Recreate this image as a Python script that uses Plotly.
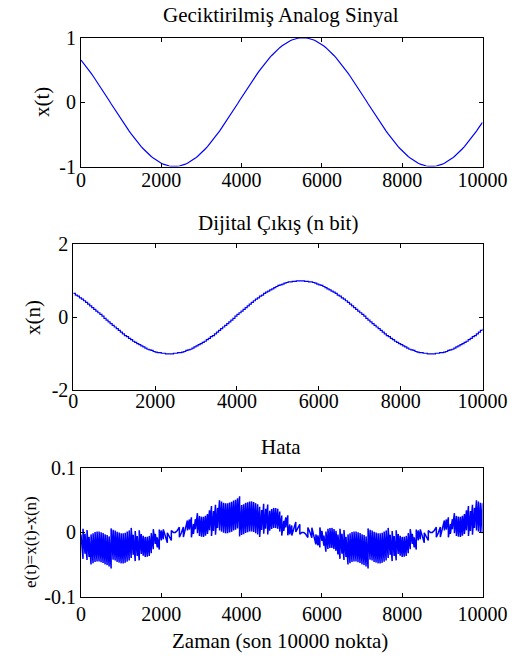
import numpy as np
import plotly.graph_objects as go

# Sample instants (son 10000 nokta), one sample every 50 points
sample_times = list(range(0, 10001, 50))

# Delayed analog signal x(t) at the sample instants
analog_samples = [
    0.653, 0.615, 0.576, 0.535, 0.493, 0.450, 0.405, 0.360, 0.314, 0.267,
    0.219, 0.171, 0.122, 0.074, 0.025, -0.025, -0.074, -0.122, -0.171, -0.219,
    -0.267, -0.314, -0.360, -0.405, -0.450, -0.493, -0.535, -0.576, -0.615, -0.653,
    -0.690, -0.724, -0.757, -0.788, -0.818, -0.845, -0.870, -0.893, -0.914, -0.933,
    -0.950, -0.964, -0.976, -0.985, -0.992, -0.997, -1.000, -1.000, -0.997, -0.992,
    -0.985, -0.976, -0.964, -0.950, -0.933, -0.914, -0.893, -0.870, -0.845, -0.818,
    -0.788, -0.757, -0.724, -0.690, -0.653, -0.615, -0.576, -0.535, -0.493, -0.450,
    -0.405, -0.360, -0.314, -0.267, -0.219, -0.171, -0.122, -0.074, -0.025, 0.025,
    0.074, 0.122, 0.171, 0.219, 0.267, 0.314, 0.360, 0.405, 0.450, 0.493,
    0.535, 0.576, 0.615, 0.653, 0.690, 0.724, 0.757, 0.788, 0.818, 0.845,
    0.870, 0.893, 0.914, 0.933, 0.950, 0.964, 0.976, 0.985, 0.992, 0.997,
    1.000, 1.000, 0.997, 0.992, 0.985, 0.976, 0.964, 0.950, 0.933, 0.914,
    0.893, 0.870, 0.845, 0.818, 0.788, 0.757, 0.724, 0.690,
    0.653, 0.615, 0.576, 0.535, 0.493, 0.450, 0.405, 0.360, 0.314, 0.267,
    0.219, 0.171, 0.122, 0.074, 0.025, -0.025, -0.074, -0.122, -0.171, -0.219,
    -0.267, -0.314, -0.360, -0.405, -0.450, -0.493, -0.535, -0.576, -0.615, -0.653,
    -0.690, -0.724, -0.757, -0.788, -0.818, -0.845, -0.870, -0.893, -0.914, -0.933,
    -0.950, -0.964, -0.976, -0.985, -0.992, -0.997, -1.000, -1.000, -0.997, -0.992,
    -0.985, -0.976, -0.964, -0.950, -0.933, -0.914, -0.893, -0.870, -0.845, -0.818,
    -0.788, -0.757, -0.724, -0.690, -0.653, -0.615, -0.576, -0.535, -0.493, -0.450,
    -0.405, -0.360, -0.314,
]

# ADC output codes (held for one sample period each)
adc_codes = [
    42, 39, 37, 34, 32, 29, 26, 23, 20, 17,
    14, 11, 8, 5, 2, -2, -5, -8, -11, -14,
    -17, -20, -23, -26, -29, -32, -34, -37, -39, -42,
    -44, -46, -48, -50, -52, -54, -56, -57, -58, -60,
    -61, -62, -62, -63, -63, -64, -64, -64, -64, -63,
    -63, -62, -62, -61, -60, -58, -57, -56, -54, -52,
    -50, -48, -46, -44, -42, -39, -37, -34, -32, -29,
    -26, -23, -20, -17, -14, -11, -8, -5, -2, 2,
    5, 8, 11, 14, 17, 20, 23, 26, 29, 32,
    34, 37, 39, 42, 44, 46, 48, 50, 52, 54,
    56, 57, 58, 60, 61, 62, 62, 63, 63, 64,
    64, 64, 64, 63, 63, 62, 62, 61, 60, 58,
    57, 56, 54, 52, 50, 48, 46, 44,
    42, 39, 37, 34, 32, 29, 26, 23, 20, 17,
    14, 11, 8, 5, 2, -2, -5, -8, -11, -14,
    -17, -20, -23, -26, -29, -32, -34, -37, -39, -42,
    -44, -46, -48, -50, -52, -54, -56, -57, -58, -60,
    -61, -62, -62, -63, -63, -64, -64, -64, -64, -63,
    -63, -62, -62, -61, -60, -58, -57, -56, -54, -52,
    -50, -48, -46, -44, -42, -39, -37, -34, -32, -29,
    -26, -23, -20,
]
adc_lsb = 1 / 64

x_ticks = [0, 2000, 4000, 6000, 8000, 10000]
x_ticktext = ["0", "2000", "4000", "6000", "8000", "10000"]
y1_ticks, y1_text = [-1, 0, 1], ["-1", "0", "1"]
y2_ticks, y2_text = [-2, 0, 2], ["-2", "0", "2"]
y3_ticks, y3_text = [-0.1, 0, 0.1], ["-0.1", "0", "0.1"]

titles = ["Geciktirilmiş Analog Sinyal", "Dijital Çıkış (n bit)", "Hata"]
ylabels = ["x(t)", "x(n)", "e(t)=x(t)-x(n)"]
xlabel = "Zaman (son 10000 nokta)"

# ---- derived series ----
t = np.array(sample_times, dtype=float)
xa = np.array(analog_samples)
xd = np.array(adc_codes) * adc_lsb

# e(t) = x(t) - x(n): within each hold interval the error runs from the
# value at the sampling instant to the value just before the next one
et, ev = [], []
for k in range(len(t) - 1):
    et += [t[k], t[k + 1]]
    ev += [xa[k] - xd[k], xa[k + 1] - xd[k]]
et.append(t[-1])
ev.append(xa[-1] - xd[-1])

W, H = 518, 659
FONT = "'Liberation Serif', 'Times New Roman', Times, serif"
BLUE = "#0000ff"


def px(xp):
    return xp / W


def py(yp):
    return 1 - yp / H


fig = go.Figure()
fig.add_trace(go.Scatter(x=t, y=xa, mode="lines", line=dict(color=BLUE, width=1.2),
                         xaxis="x", yaxis="y"))
fig.add_trace(go.Scatter(x=t, y=xd, mode="lines", line=dict(color=BLUE, width=1.2, shape="hv"),
                         xaxis="x2", yaxis="y2"))
fig.add_trace(go.Scatter(x=et, y=ev, mode="lines", line=dict(color=BLUE, width=1.5),
                         xaxis="x3", yaxis="y3"))

axis_style = dict(
    showline=True, linecolor="black", linewidth=1, mirror="ticks",
    ticks="inside", ticklen=4, tickwidth=1, tickcolor="black",
    showgrid=False, zeroline=False, automargin=False,
    tickfont=dict(family=FONT, size=20, color="black"),
)

# plot boxes in pixels: (left, right, top, bottom), plus x tick label offset
boxes = [(81, 482.5, 37.7, 166.5, -5), (73.3, 482.5, 244.3, 390.3, -7), (81, 482.5, 468.3, 596.5, -1)]
yticks = [(y1_ticks, y1_text, [-1, 1]), (y2_ticks, y2_text, [-2, 2]), (y3_ticks, y3_text, [-0.1, 0.1])]

layout = dict(
    width=W, height=H, margin=dict(l=0, r=0, t=0, b=0, pad=0, autoexpand=False),
    paper_bgcolor="white", plot_bgcolor="white", showlegend=False,
    font=dict(family=FONT, color="black"),
)
for i, ((l, r, tp, bt, so), (tv, tt, rg)) in enumerate(zip(boxes, yticks)):
    sx = "" if i == 0 else str(i + 1)
    layout["xaxis" + sx] = dict(axis_style, domain=[px(l), px(r)], range=[0, 10000],
                                tickvals=x_ticks, ticktext=x_ticktext,
                                ticklabelstandoff=so, anchor="y" + sx)
    layout["yaxis" + sx] = dict(axis_style, domain=[py(bt), py(tp)], range=rg,
                                tickvals=tv, ticktext=tt, anchor="x" + sx)

annotations = []
title_pos = [(281, 15), (277.5, 223), (281, 447)]
for txt, (xp, yp) in zip(titles, title_pos):
    annotations.append(dict(text=txt, x=px(xp), y=py(yp), xref="paper", yref="paper",
                            xanchor="center", yanchor="middle", showarrow=False,
                            font=dict(family=FONT, size=21, color="black")))
ylabel_pos = [(42, 102, 21), (33, 318, 21), (30, 542, 17)]
for txt, (xp, yp, fs) in zip(ylabels, ylabel_pos):
    annotations.append(dict(text=txt, x=px(xp), y=py(yp), xref="paper", yref="paper",
                            xanchor="center", yanchor="middle", showarrow=False,
                            textangle=-90,
                            font=dict(family=FONT, size=fs, color="black")))
annotations.append(dict(text=xlabel, x=px(280), y=py(641), xref="paper", yref="paper",
                        xanchor="center", yanchor="middle", showarrow=False,
                        font=dict(family=FONT, size=21, color="black")))
layout["annotations"] = annotations

fig.update_layout(**layout)
fig.write_html("out.html")
